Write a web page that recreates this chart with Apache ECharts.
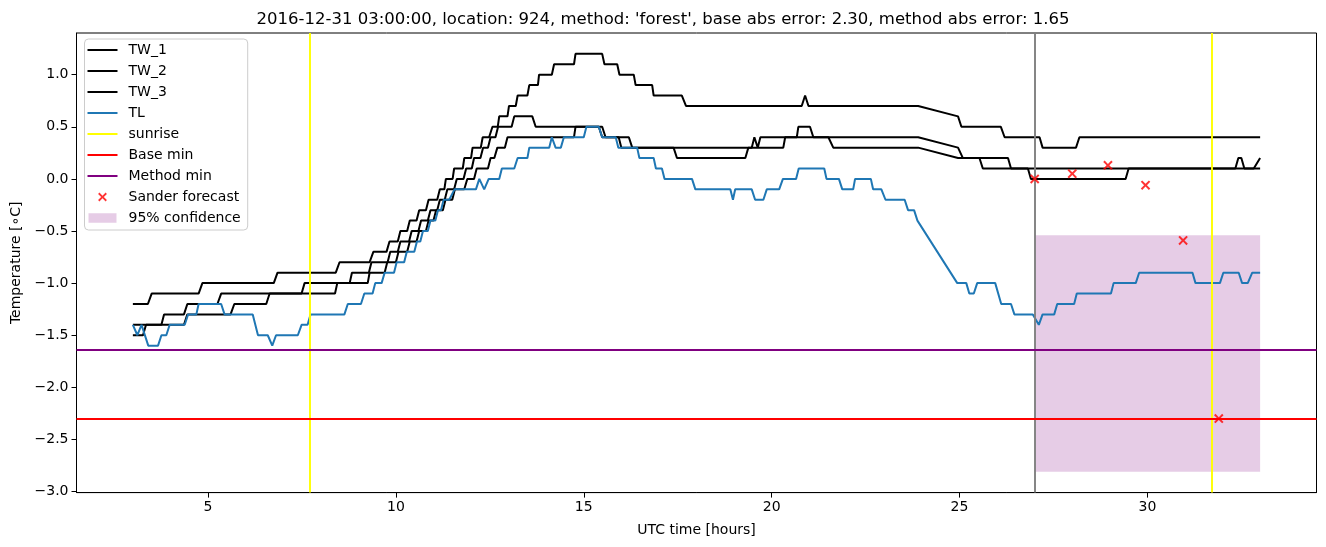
<!DOCTYPE html>
<html>
<head>
<meta charset="utf-8">
<script src="https://cdn.jsdelivr.net/npm/echarts@6/dist/echarts.min.js"></script>
<style>html,body{margin:0;padding:0;background:#fff}#c{width:1326px;height:547px}</style>
</head>
<body>
<div id="c"></div>
<script>
const titleText = "2016-12-31 03:00:00, location: 924, method: 'forest', base abs error: 2.30, method abs error: 1.65";
const xTicks = [5, 10, 15, 20, 25, 30];
const yTicks = [-3.0, -2.5, -2.0, -1.5, -1.0, -0.5, 0.0, 0.5, 1.0];

const tw1 = [[3.0,-1.2],[3.4,-1.2],[3.5,-1.1],[4.75,-1.1],[4.85,-1.0],[6.75,-1.0],[6.85,-0.9],[8.4,-0.9],[8.5,-0.8],[9.3,-0.8],[9.4,-0.7],[9.75,-0.7],[9.83,-0.6],[10.05,-0.6],[10.12,-0.5],[10.3,-0.5],[10.37,-0.4],[10.55,-0.4],[10.62,-0.3],[10.8,-0.3],[10.87,-0.2],[11.1,-0.2],[11.17,-0.1],[11.29,-0.1],[11.33,0.0],[11.51,0.0],[11.55,0.1],[11.78,0.1],[11.82,0.2],[12.0,0.2],[12.04,0.3],[12.26,0.3],[12.31,0.4],[12.48,0.4],[12.57,0.5],[12.71,0.5],[12.75,0.6],[12.97,0.6],[13.01,0.7],[13.19,0.7],[13.24,0.8],[13.5,0.8],[13.55,0.9],[13.78,0.9],[13.81,1.0],[14.15,1.0],[14.21,1.1],[14.74,1.1],[14.78,1.2],[15.49,1.2],[15.55,1.1],[15.89,1.1],[15.95,1.0],[16.33,1.0],[16.38,0.9],[16.82,0.9],[16.86,0.8],[17.61,0.8],[17.72,0.7],[20.8,0.7],[20.89,0.8],[20.98,0.7],[23.9,0.7],[24.96,0.6],[25.05,0.5],[26.1,0.5],[26.2,0.4],[27.13,0.4],[27.21,0.3],[28.1,0.3],[28.19,0.4],[33.0,0.4]];

const tw2 = [[3.0,-1.4],[3.76,-1.4],[3.83,-1.3],[4.36,-1.3],[4.45,-1.2],[5.25,-1.2],[5.35,-1.1],[7.49,-1.1],[7.57,-1.0],[8.77,-1.0],[8.83,-0.9],[9.28,-0.9],[9.35,-0.8],[9.78,-0.8],[9.85,-0.7],[10.05,-0.7],[10.12,-0.6],[10.35,-0.6],[10.42,-0.5],[10.6,-0.5],[10.67,-0.4],[10.85,-0.4],[10.92,-0.3],[11.1,-0.3],[11.17,-0.2],[11.3,-0.2],[11.37,-0.1],[11.55,-0.1],[11.62,0.0],[11.8,0.0],[11.87,0.1],[12.02,0.1],[12.08,0.2],[12.25,0.2],[12.32,0.3],[12.45,0.3],[12.52,0.4],[12.65,0.4],[12.72,0.5],[13.08,0.5],[13.15,0.6],[13.63,0.6],[13.72,0.5],[15.49,0.5],[15.58,0.4],[16.2,0.4],[16.29,0.3],[20.31,0.3],[20.36,0.4],[20.67,0.4],[20.71,0.5],[21.02,0.5],[21.11,0.4],[21.51,0.4],[21.64,0.3],[23.9,0.3],[24.96,0.2],[25.53,0.2],[25.62,0.1],[26.82,0.1],[26.9,0.0],[29.42,0.0],[29.5,0.1],[33.0,0.1]];

const tw3 = [[3.0,-1.5],[3.27,-1.5],[3.35,-1.4],[4.36,-1.4],[4.45,-1.3],[5.6,-1.3],[5.7,-1.2],[6.55,-1.2],[6.64,-1.1],[8.38,-1.1],[8.44,-1.0],[9.25,-1.0],[9.3,-0.9],[9.7,-0.9],[9.77,-0.8],[10.0,-0.8],[10.07,-0.7],[10.3,-0.7],[10.37,-0.6],[10.55,-0.6],[10.62,-0.5],[10.8,-0.5],[10.87,-0.4],[11.0,-0.4],[11.07,-0.3],[11.25,-0.3],[11.32,-0.2],[11.5,-0.2],[11.57,-0.1],[11.82,-0.1],[11.9,0.0],[12.08,0.0],[12.15,0.1],[12.45,0.1],[12.52,0.2],[12.62,0.2],[12.7,0.3],[12.9,0.3],[12.97,0.4],[14.74,0.4],[14.78,0.5],[15.4,0.5],[15.49,0.4],[15.93,0.4],[16.0,0.3],[17.39,0.3],[17.48,0.2],[19.3,0.2],[19.38,0.3],[19.47,0.3],[19.54,0.4],[19.63,0.3],[19.65,0.3],[19.7,0.4],[23.9,0.4],[24.96,0.3],[25.09,0.2],[26.29,0.2],[26.37,0.1],[32.34,0.1],[32.42,0.2],[32.5,0.2],[32.58,0.1],[32.83,0.1],[33.0,0.2]];

const tl = [[3.0,-1.4],[3.12,-1.5],[3.23,-1.4],[3.41,-1.6],[3.67,-1.6],[3.76,-1.5],[3.89,-1.5],[3.98,-1.4],[4.38,-1.4],[4.47,-1.3],[4.69,-1.3],[4.75,-1.2],[5.35,-1.2],[5.44,-1.3],[6.19,-1.3],[6.33,-1.5],[6.59,-1.5],[6.71,-1.6],[6.81,-1.5],[7.39,-1.5],[7.49,-1.4],[7.65,-1.4],[7.73,-1.3],[8.63,-1.3],[8.72,-1.2],[9.07,-1.2],[9.16,-1.1],[9.38,-1.1],[9.45,-1.0],[9.62,-1.0],[9.7,-0.9],[9.95,-0.9],[10.02,-0.8],[10.22,-0.8],[10.29,-0.7],[10.49,-0.7],[10.56,-0.6],[10.65,-0.6],[10.72,-0.5],[10.85,-0.5],[10.92,-0.4],[11.05,-0.4],[11.12,-0.3],[11.2,-0.3],[11.27,-0.2],[11.42,-0.2],[11.56,-0.1],[12.13,-0.1],[12.22,0.0],[12.35,-0.1],[12.47,0.0],[12.75,0.0],[12.82,0.1],[13.15,0.1],[13.24,0.2],[13.5,0.2],[13.55,0.3],[14.08,0.3],[14.15,0.4],[14.25,0.3],[14.39,0.3],[14.47,0.4],[15.0,0.4],[15.07,0.5],[15.4,0.5],[15.49,0.4],[15.85,0.4],[15.92,0.3],[16.42,0.3],[16.48,0.2],[16.86,0.2],[16.92,0.1],[17.08,0.1],[17.15,0.0],[17.88,0.0],[17.97,-0.1],[18.9,-0.1],[18.97,-0.2],[19.03,-0.1],[19.47,-0.1],[19.56,-0.2],[19.78,-0.2],[19.87,-0.1],[20.2,-0.1],[20.3,0.0],[20.65,0.0],[20.72,0.1],[21.4,0.1],[21.46,0.0],[21.79,0.0],[21.88,-0.1],[22.17,-0.1],[22.22,0.0],[22.64,0.0],[22.7,-0.1],[22.92,-0.1],[23.03,-0.2],[23.54,-0.2],[23.63,-0.3],[23.79,-0.3],[23.88,-0.4],[24.94,-1.0],[25.18,-1.0],[25.26,-1.1],[25.38,-1.1],[25.47,-1.0],[25.95,-1.0],[26.11,-1.2],[26.37,-1.2],[26.46,-1.3],[26.95,-1.3],[27.11,-1.4],[27.21,-1.3],[27.52,-1.3],[27.6,-1.2],[28.05,-1.2],[28.12,-1.1],[29.03,-1.1],[29.1,-1.0],[29.69,-1.0],[29.78,-0.9],[31.2,-0.9],[31.28,-1.0],[31.93,-1.0],[32.02,-0.9],[32.43,-0.9],[32.52,-1.0],[32.67,-1.0],[32.79,-0.9],[33.0,-0.9]];

const sunriseTimes = [7.72, 31.71];
const nowTime = 27.0;
const baseMin = -2.30;
const methodMin = -1.64;
const sanderForecast = [[27.0,0.0],[28.0,0.05],[28.95,0.13],[29.95,-0.06],[30.95,-0.59],[31.9,-2.30]];
const confX = [27.0, 33.0];
const confY = [-0.54, -2.81];

const FONT = 'DejaVu Sans';
const X_PATH = 'M0,1.5 L1.5,0 L5,3.5 L8.5,0 L10,1.5 L6.5,5 L10,8.5 L8.5,10 L5,6.5 L1.5,10 L0,8.5 L3.5,5 Z';
const LINE_ICON = 'path://M0,0 H30 V2 H0 Z';
const X_ICON = 'path://M-12,-2 L-12,-2 Z M22,12 L22,12 Z ' + X_PATH;
const RECT_ICON = 'path://M0,0 L0,0 Z M30,14 L30,14 Z M1,2.3 H29 V11.7 H1 Z';

const fmt = v => v.toFixed(1).replace('-', '\u2212');

const lineSeries = (name, data, color) => ({
  name, type: 'line', data, color, symbol: 'none', showSymbol: false,
  lineStyle: {color, width: 2}, z: 3, silent: true, animation: false
});
const markLineSeries = (name, color, lines, z) => ({
  name, type: 'line', data: [], color, z: z || 4, animation: false,
  markLine: {symbol: ['none','none'], silent: true, animation: false, label: {show: false},
    lineStyle: {color, width: 1.9, type: 'solid'}, emphasis: {disabled: true}, data: lines}
});

const chart = echarts.init(document.getElementById('c'), null, {renderer: 'canvas'});
chart.setOption({
  animation: false,
  backgroundColor: '#fff',
  title: {text: titleText, left: 'center', top: 6, textStyle: {fontFamily: FONT, fontSize: 16.5, fontWeight: 'normal', color: '#000'}},
  grid: {left: 76.5, right: 9.5, top: 33, bottom: 54.4, show: true, borderColor: '#000', borderWidth: 1, containLabel: false},
  legend: {
    left: 84.5, top: 39, orient: 'vertical', align: 'left',
    backgroundColor: 'rgba(255,255,255,0.8)', borderColor: '#cccccc', borderWidth: 1, borderRadius: 4,
    padding: [4, 7, 5, 3], itemWidth: 30, itemHeight: 14, itemGap: 7, selectedMode: false,
    textStyle: {fontFamily: FONT, fontSize: 14, color: '#000', lineHeight: 14, padding: [0,0,0,6]},
    data: [
      {name: 'TW_1', icon: LINE_ICON}, {name: 'TW_2', icon: LINE_ICON}, {name: 'TW_3', icon: LINE_ICON},
      {name: 'TL', icon: LINE_ICON}, {name: 'sunrise', icon: LINE_ICON}, {name: 'Base min', icon: LINE_ICON},
      {name: 'Method min', icon: LINE_ICON}, {name: 'Sander forecast', icon: X_ICON},
      {name: '95% confidence', icon: RECT_ICON}
    ]
  },
  xAxis: {
    type: 'value', min: 1.5, max: 34.5,
    name: 'UTC time [hours]', nameLocation: 'middle', nameGap: 31,
    nameTextStyle: {fontFamily: FONT, fontSize: 14, color: '#000'},
    axisLine: {show: true, onZero: false, lineStyle: {color: '#000', width: 1}},
    axisTick: {show: true, length: 5, customValues: xTicks, lineStyle: {color: '#000'}},
    axisLabel: {customValues: xTicks, margin: 8, fontFamily: FONT, fontSize: 14, color: '#000', formatter: v => String(v)},
    splitLine: {show: false}
  },
  yAxis: {
    type: 'value', min: -3.01, max: 1.40,
    name: 'Temperature [\u2218C]', nameLocation: 'middle', nameGap: 50,
    nameTextStyle: {fontFamily: FONT, fontSize: 14, color: '#000'},
    axisLine: {show: true, onZero: false, lineStyle: {color: '#000', width: 1}},
    axisTick: {show: true, length: 5, customValues: yTicks, lineStyle: {color: '#000'}},
    axisLabel: {customValues: yTicks, margin: 8, fontFamily: FONT, fontSize: 14, color: '#000', formatter: fmt},
    splitLine: {show: false}
  },
  series: [
    {
      name: '95% confidence', type: 'line', data: [], color: 'rgba(128,0,128,0.2)', z: 1, animation: false,
      markArea: {silent: true, animation: false, itemStyle: {color: 'rgba(128,0,128,0.2)'}, label: {show: false},
        data: [[{coord: [confX[0], confY[0]]}, {coord: [confX[1], confY[1]]}]]}
    },
    markLineSeries('now', '#808080', [{xAxis: nowTime}], 2),
    lineSeries('TW_1', tw1, '#000000'),
    lineSeries('TW_2', tw2, '#000000'),
    lineSeries('TW_3', tw3, '#000000'),
    lineSeries('TL', tl, '#1f77b4'),
    markLineSeries('sunrise', '#ffff00', sunriseTimes.map(t => ({xAxis: t}))),
    markLineSeries('Base min', '#ff0000', [{yAxis: baseMin}]),
    markLineSeries('Method min', '#800080', [{yAxis: methodMin}]),
    {
      name: 'Sander forecast', type: 'scatter', data: sanderForecast, color: '#ff0000',
      symbol: 'path://' + X_PATH, symbolSize: 9.5, z: 6, silent: true, animation: false,
      itemStyle: {color: '#ff0000'}
    }
  ]
});
</script>
</body>
</html>
